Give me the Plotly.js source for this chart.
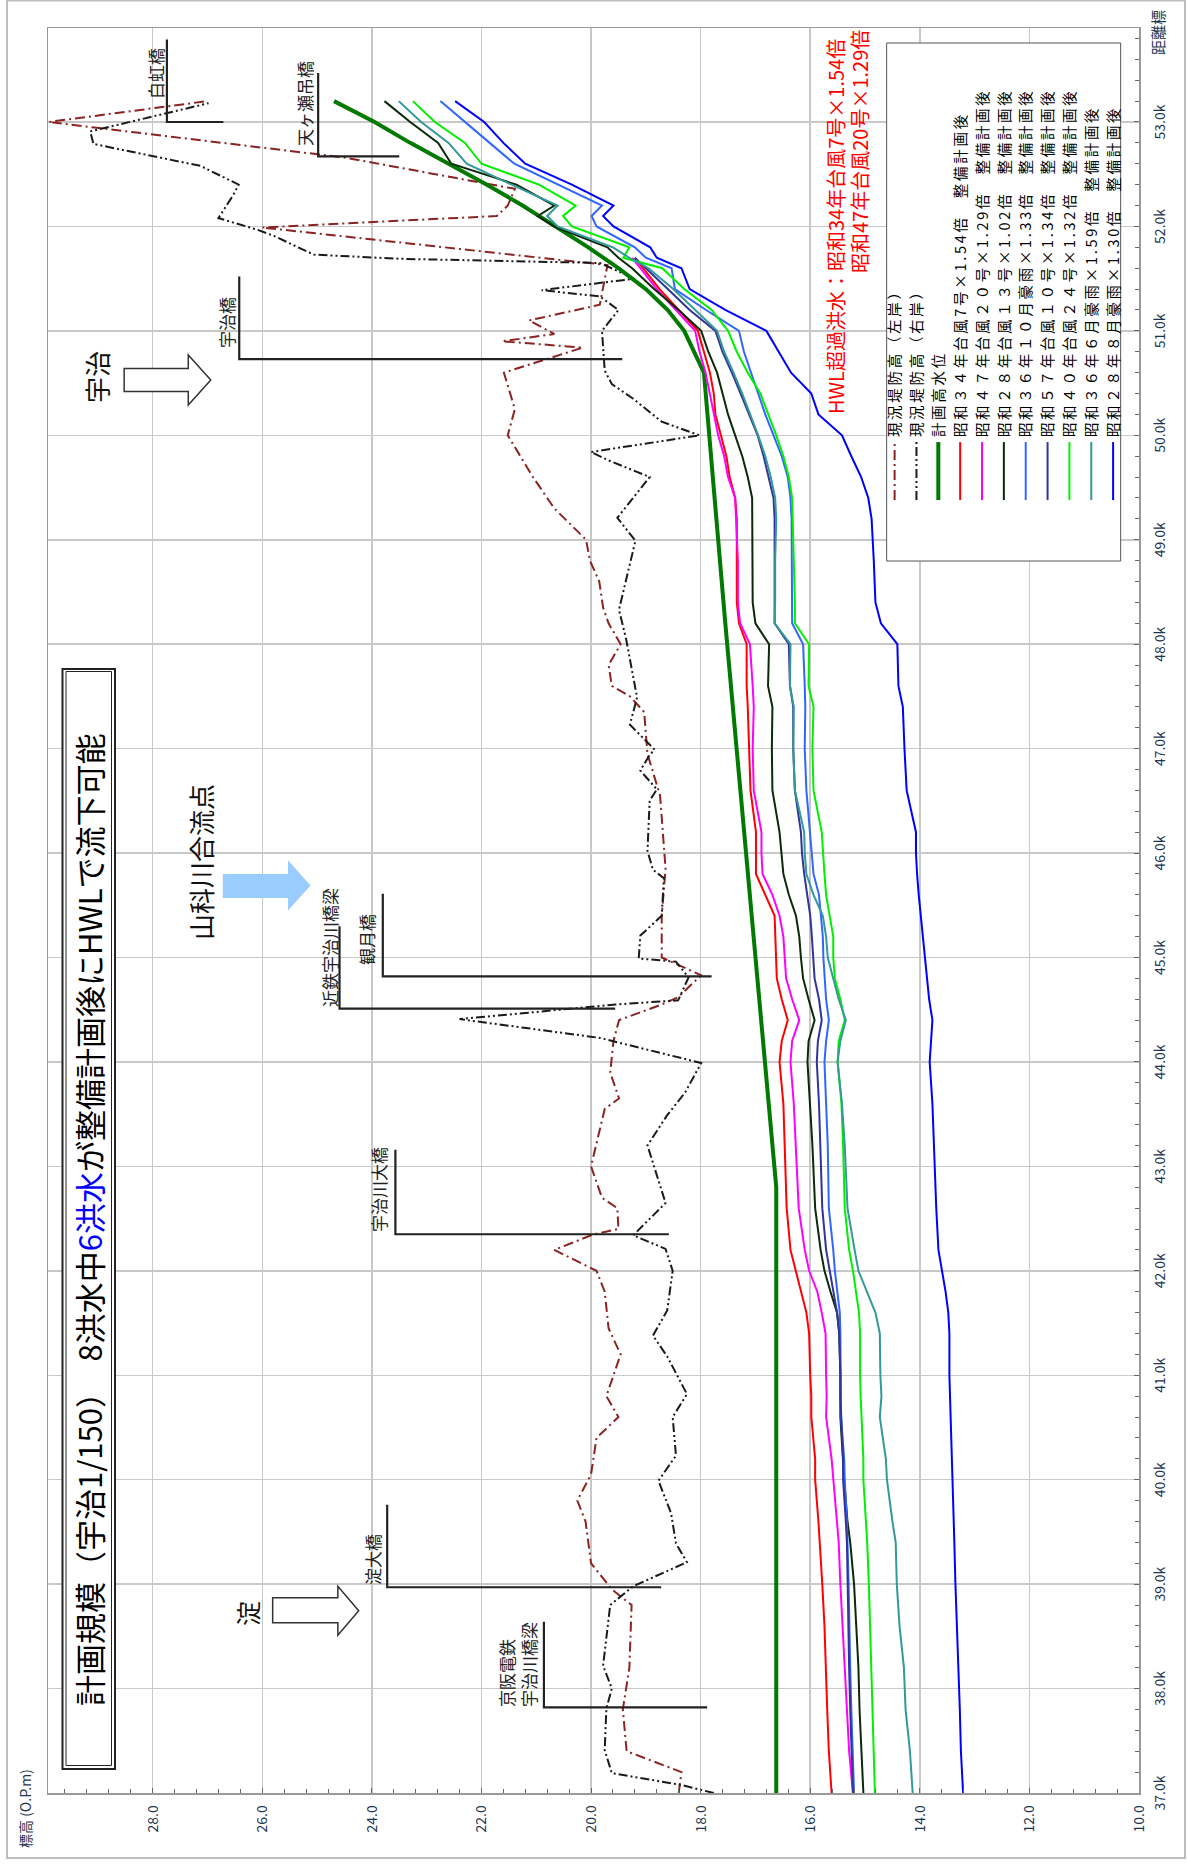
<!DOCTYPE html>
<html><head><meta charset="utf-8">
<script src="https://cdn.plot.ly/plotly-3.0.1.min.js"></script>
<style>
html,body{margin:0;padding:0;background:#fff;overflow:hidden;width:1187px;height:1865px;}
#wrap{position:absolute;left:0;top:0;width:1865px;height:1187px;transform-origin:0 0;transform:translate(0px,1865px) rotate(-90deg);}
#chart{width:1865px;height:1187px;}
#chart .legendtext{letter-spacing:2.7px;}
#chart .legend .scrollbox{clip-path:none !important;}
</style></head><body>
<div id="wrap"><div id="chart"></div></div>
<script>
// ---------------- DATA ----------------
// distance marks (km) shared by the simulated water-level series
const dist = [37.0,37.4,37.8,38.2,38.6,39.0,39.4,39.6,40.0,40.2,40.6,40.8,41.0,41.4,41.6,41.8,42.0,42.2,42.6,43.2,43.6,44.0,44.2,44.4,44.6,44.8,45.0,45.2,45.4,45.6,45.8,46.0,46.2,46.6,47.0,47.4,47.6,48.0,
  48.2,48.4,48.8,49.2,49.4,49.6,49.8,50.0,50.2,50.4,50.6,50.8,51.0,51.2,51.4,51.6,51.7,51.8,52.0,52.1,52.2,52.4,52.6,52.8,53.0,53.2];

const wlS34_7 = [15.61,15.66,15.69,15.71,15.74,15.78,15.82,15.85,15.91,15.91,15.98,15.98,16.00,16.02,16.07,16.17,16.26,16.36,16.43,16.46,16.49,16.56,16.52,16.41,16.52,16.61,16.62,16.63,16.65,16.82,16.99,16.99,16.99,17.09,17.11,17.14,17.16,17.16,
  17.30,17.34,17.34,17.34,17.37,17.47,17.53,17.63,17.73,17.76,17.83,17.94,18.05,18.40,18.75,19.05,19.20,null,null,null,null,null,null,null,null,null];
const wlS47_20 = [15.22,15.29,15.33,15.37,15.42,15.45,15.48,15.51,15.58,15.61,15.71,15.70,15.71,15.72,15.79,15.87,16.02,16.10,16.21,16.26,16.30,16.36,16.33,16.20,16.33,16.44,16.46,16.49,16.56,16.69,16.87,16.89,16.89,17.03,17.05,17.03,17.05,17.10,
  17.28,17.32,17.32,17.35,17.37,17.50,17.57,17.68,17.76,17.83,17.91,18.02,18.10,18.45,18.80,19.10,19.25,null,null,null,null,null,null,null,null,null];
const wlS28_13 = [15.03,15.07,15.10,15.12,15.16,15.20,15.27,15.32,15.38,15.40,15.45,15.45,15.45,15.47,15.51,15.63,15.74,15.81,15.91,15.96,16.00,16.05,16.03,15.92,16.03,16.13,16.17,16.20,16.26,16.39,16.49,16.52,16.56,16.69,16.70,16.69,16.77,16.75,
  17.00,17.05,17.05,17.05,17.06,17.14,17.24,17.37,17.50,17.60,17.70,17.86,17.99,18.40,18.85,19.25,19.50,19.70,20.68,20.97,20.67,21.36,22.55,22.79,23.30,23.77];
const wlS36_10 = [15.20,15.23,15.25,15.27,15.28,15.30,15.32,15.33,15.37,15.38,15.44,15.44,15.44,15.45,15.46,15.51,15.55,15.58,15.66,15.68,15.71,15.74,15.71,15.66,15.71,15.74,15.76,15.77,15.81,15.84,15.94,15.97,16.00,16.07,16.10,16.09,16.10,16.13,
  16.33,16.33,16.33,16.34,16.36,16.41,16.52,16.67,16.82,16.95,17.08,17.21,17.30,17.90,18.47,18.53,19.00,19.20,19.90,19.99,19.80,20.60,21.40,21.85,22.30,22.75];
const wlS57_10 = [15.22,15.25,15.27,15.29,15.30,15.32,15.33,15.35,15.40,15.40,15.44,15.45,15.45,15.47,15.51,15.58,15.64,15.71,15.78,15.81,15.84,15.88,15.86,15.79,15.84,15.92,15.94,15.97,16.00,16.06,16.11,16.15,16.17,16.28,16.31,16.31,16.37,16.39,
  16.65,16.65,16.65,16.65,16.67,16.76,16.85,16.96,17.11,17.27,17.43,17.60,17.73,18.20,18.60,19.00,19.20,null,null,null,null,null,null,null,null,null];
const wlS40_24 = [14.82,14.84,14.86,14.88,14.91,14.93,14.96,14.98,15.03,15.03,15.07,15.08,15.09,15.09,15.11,15.16,15.22,15.29,15.37,15.40,15.43,15.50,15.48,15.37,15.45,15.55,15.58,15.58,15.64,15.71,15.74,15.77,15.79,15.94,15.96,15.94,16.03,16.02,
  16.28,16.28,16.30,16.31,16.33,16.39,16.49,16.62,16.76,16.91,17.14,17.34,17.50,17.80,18.30,18.70,19.41,19.30,20.35,20.51,20.28,20.95,22.00,22.30,22.85,23.25];
const wlS36_6 = [14.13,14.18,14.26,14.29,14.37,14.42,14.44,14.50,14.60,14.62,14.73,14.70,14.72,14.73,14.81,14.96,15.12,15.19,15.32,15.37,15.42,15.50,15.45,15.35,15.48,15.58,15.68,15.71,15.77,15.94,16.07,16.10,16.11,16.28,16.31,16.30,16.37,16.36,
  16.65,16.64,16.64,16.62,16.64,16.72,16.82,16.95,17.09,17.24,17.40,17.57,17.70,18.10,18.50,18.95,19.30,19.60,20.61,20.80,20.61,21.45,22.27,22.60,23.10,23.51];
const wlS28_8 = [13.21,13.25,13.27,13.30,13.33,13.35,13.37,13.38,13.41,13.42,13.44,13.45,13.46,13.46,13.48,13.53,13.59,13.66,13.70,13.74,13.77,13.82,13.80,13.77,13.83,13.87,13.90,13.94,13.98,14.02,14.05,14.07,14.07,14.24,14.28,14.31,14.39,14.41,
  14.71,14.81,14.84,14.88,14.94,15.07,15.25,15.42,15.85,15.98,16.35,16.57,16.80,17.55,18.20,18.35,18.80,18.92,19.59,19.78,19.59,20.35,21.20,21.60,21.95,22.48];

// planned high water level (HWL)
const hwlDist  = [37.0,42.8,48.2,50.6,51.0,51.2,51.4,51.6,51.8,52.0,52.2,52.4,52.6,52.8,53.0,53.2];
const hwlLevel = [16.62,16.62,17.55,17.94,18.30,18.60,19.00,19.50,20.05,20.65,21.25,21.90,22.60,23.30,23.95,24.69];

// existing levee crown, left bank
const leftBankDist  = [37.0,37.2,37.4,37.8,38.2,38.8,38.95,39.2,39.6,39.8,40.05,40.4,40.6,40.8,41.2,41.45,41.8,42.0,42.2,42.35,42.4,42.6,42.7,43.0,43.55,43.65,43.9,44.2,44.4,44.55,44.62,44.83,45.0,45.4,45.85,46.05,46.55,46.95,47.35,47.5,47.6,47.8,48.0,48.2,48.35,48.6,48.8,49.0,49.3,49.6,50.0,50.25,50.6,50.84,50.9,50.97,51.1,51.25,51.63,51.99,52.1,52.2,52.36,52.66,53.0,53.2];
const leftBankLevel = [18.40,18.35,19.35,19.42,19.30,19.26,19.62,20.00,20.10,20.25,20.00,19.90,19.50,19.72,19.46,19.68,19.75,19.90,20.67,19.95,19.50,19.52,19.80,20.00,19.75,19.49,19.65,19.59,19.49,18.71,18.41,17.99,18.71,18.71,18.64,18.67,18.74,18.97,19.03,19.29,19.62,19.68,19.46,19.68,19.78,19.85,20.02,20.09,20.67,21.06,21.52,21.39,21.59,20.15,21.62,20.67,21.13,19.84,19.70,26.00,21.72,21.52,21.39,24.50,29.90,27.00];

// existing levee crown, right bank
const rightBankDist  = [37.0,37.08,37.19,37.41,37.81,38.0,38.22,38.66,38.8,38.98,39.21,39.39,39.68,39.99,40.23,40.6,40.82,41.18,41.38,41.62,42.0,42.21,42.34,42.65,43.2,43.49,43.71,43.99,44.23,44.41,44.55,44.59,44.81,44.96,44.99,45.21,45.4,45.76,45.84,46.02,46.5,46.61,46.79,46.94,46.99,47.16,47.23,47.49,48.05,48.33,48.99,49.21,49.6,49.76,49.84,50.0,50.13,50.35,50.49,50.62,51.0,51.2,51.33,51.39,51.5,51.65,51.69,51.73,51.91,51.97,52.08,52.3,52.4,52.58,52.79,52.91,53.18];
const rightBankLevel = [17.76,18.38,19.62,19.75,19.72,19.62,19.78,19.68,19.65,19.23,18.25,18.45,18.54,18.77,18.45,18.51,18.25,18.61,18.87,18.61,18.51,18.64,19.23,18.64,18.97,18.61,18.28,17.99,19.84,22.40,19.55,18.41,18.22,18.45,19.13,19.10,18.71,18.67,18.87,18.97,18.93,18.80,19.10,18.93,18.84,19.16,19.29,19.16,19.36,19.49,19.19,19.52,18.93,19.68,20.00,18.02,18.71,19.23,19.62,19.75,19.80,19.50,19.84,20.90,19.20,19.84,23.48,25.06,25.79,26.10,26.80,26.53,26.43,27.13,29.08,29.14,26.98];

// bridges: location, girder bottom, top, and marker end
const bridgeNames = ['白虹橋','天ヶ瀬吊橋','宇治橋','観月橋','近鉄宇治川橋梁','宇治川大橋','淀大橋','京阪電鉄<br>宇治川橋梁'];
const bridgeDist  = [53.00,52.67,50.73,44.82,44.51,42.35,38.97,37.82];
const bridgeLow   = [26.71,23.50,19.43,17.80,19.56,18.58,18.72,17.88];
const bridgeHigh  = [27.74,24.98,26.42,23.80,24.59,23.57,23.72,20.86];
const bridgeEnd   = [53.79,53.47,51.52,45.61,45.30,43.16,39.76,38.64];

const seriesNames = ['昭和３４年台風7号×1.54倍　整備計画後','昭和４７年台風２０号×1.29倍　整備計画後','昭和２８年台風１３号×1.02倍　整備計画後',
  '昭和３６年１０月豪雨×1.33倍　整備計画後','昭和５７年台風１０号×1.34倍　整備計画後','昭和４０年台風２４号×1.32倍　整備計画後',
  '昭和３６年６月豪雨×1.59倍　整備計画後','昭和２８年８月豪雨×1.30倍　整備計画後'];
const seriesValues = [wlS34_7, wlS47_20, wlS28_13, wlS36_10, wlS57_10, wlS40_24, wlS36_6, wlS28_8];

// ---------------- STYLE ----------------
const FONT = '"Noto Sans CJK JP","Noto Sans",sans-serif';
const seriesColors = ['#FF0000','#FF00FF','#0A2A0A','#3366FF','#333399','#00F000','#339999','#0000FF'];

const traces = [];
traces.push({x:leftBankDist, y:leftBankLevel, mode:'lines', name:'現況堤防高（左岸）',
  line:{color:'#8B2323', width:2, dash:'10px,4px,2px,4px'}});
traces.push({x:rightBankDist, y:rightBankLevel, mode:'lines', name:'現況堤防高（右岸）',
  line:{color:'#1a1a1a', width:2, dash:'9px,3px,2px,3px,2px,3px'}});
traces.push({x:hwlDist, y:hwlLevel, mode:'lines', name:'計画高水位', line:{color:'#007A00', width:4}});
seriesValues.forEach((vals,i)=>{
  traces.push({x:dist, y:vals, mode:'lines', name:seriesNames[i], connectgaps:false,
    line:{color:seriesColors[i], width:2}});
});
// bridge markers
const bx=[], by=[];
bridgeDist.forEach((d,i)=>{ bx.push(d,d,bridgeEnd[i],null); by.push(bridgeLow[i],bridgeHigh[i],bridgeHigh[i],null); });
traces.push({x:bx, y:by, mode:'lines', showlegend:false, hoverinfo:'skip', line:{color:'#222', width:2.2}});

// bridge labels
const labelStart = [0.20,0.08,0.09,0.09,0.0,0.0,0.0,-0.02];
const labelLift  = [11,14,13,16,10,17,15,26];
const annotations = bridgeNames.map((n,i)=>({
  x: bridgeDist[i]+labelStart[i], y: bridgeHigh[i], xref:'x', yref:'y', text:n, showarrow:false,
  xanchor:'left', yanchor:'middle', yshift:labelLift[i], align:'left',
  font:{family:FONT, size:17, color:'#222'}
}));
annotations.push(
  {x:0.3252, y:0.9629, xref:'paper', yref:'paper', showarrow:false, xanchor:'center', yanchor:'middle',
   text:'計画規模（宇治1/150）　8洪水中<span style="color:#0000FF">6洪水</span>が整備計画後にHWLで流下可能',
   font:{family:FONT, size:31, color:'#000'}},
  {x:50.56, y:29.02, xref:'x', yref:'y', text:'宇治', showarrow:false, font:{family:FONT, size:26, color:'#111'}},
  {x:38.72, y:26.28, xref:'x', yref:'y', text:'淀', showarrow:false, font:{family:FONT, size:25, color:'#111'}},
  {x:45.91, y:27.12, xref:'x', yref:'y', text:'山科川合流点', showarrow:false, font:{family:FONT, size:26, color:'#111'}},
  {x:53.81, y:15.54, xref:'x', yref:'y', xanchor:'right', text:'HWL超過洪水：昭和34年台風7号×1.54倍', showarrow:false, font:{family:FONT, size:20, color:'#FF0000'}},
  {x:53.90, y:15.10, xref:'x', yref:'y', xanchor:'right', text:'昭和47年台風20号×1.29倍', showarrow:false, font:{family:FONT, size:20, color:'#FF0000'}},
  {x:-0.0323, y:1.021, xref:'paper', yref:'paper', xanchor:'left', yanchor:'middle', text:'標高 (O.P.m)', showarrow:false, font:{family:FONT, size:14, color:'#1e3550'}},
  {x:0.9836, y:-0.0165, xref:'paper', yref:'paper', xanchor:'left', yanchor:'middle', text:'距離標', showarrow:false, font:{family:FONT, size:15, color:'#1e3550'}}
);

const shapes = [
  // outer frame
  {type:'rect', xref:'paper', yref:'paper', x0:-0.0368, x1:1.0156, y0:-0.0422, y1:1.0376, line:{color:'#bdbdbd', width:2}},
  // title box (double border)
  {type:'rect', xref:'paper', yref:'paper', x0:0.0136, x1:0.6368, y0:0.93859, y1:0.98671, fillcolor:'#fff', line:{color:'#222', width:2}, layer:'above'},
  {type:'rect', xref:'paper', yref:'paper', x0:0.01558, x1:0.63541, y0:0.94180, y1:0.98350, line:{color:'#222', width:1}, layer:'above'},
  // legend box
  {type:'rect', xref:'paper', yref:'paper', x0:0.698, x1:0.9915, y0:0.0168, y1:0.2313, fillcolor:'#fff', line:{color:'#555', width:1}, layer:'above'},
  // flow arrows
  {type:'path', xref:'x', yref:'y', path:'M50.42,28.52 L50.64,28.52 L50.64,27.35 L50.77,27.35 L50.53,26.94 L50.29,27.35 L50.42,27.35 Z', fillcolor:'#fff', line:{color:'#333', width:1.5}, layer:'above'},
  {type:'path', xref:'x', yref:'y', path:'M38.63,25.81 L38.87,25.81 L38.87,24.62 L38.98,24.62 L38.745,24.24 L38.51,24.62 L38.63,24.62 Z', fillcolor:'#fff', line:{color:'#333', width:1.5}, layer:'above'},
  {type:'path', xref:'x', yref:'y', path:'M45.57,26.72 L45.80,26.72 L45.80,25.53 L45.93,25.53 L45.69,25.12 L45.45,25.53 L45.57,25.53 Z', fillcolor:'#99CCFF', line:{width:0}, layer:'above'}
];

const axisCommon = {
  showgrid:true, gridcolor:'#c8c8c8', gridwidth:1.5, showline:true, linecolor:'#999', linewidth:1.5, mirror:true,
  zeroline:false, ticks:'inside', ticklen:5, tickcolor:'#666', tickformat:'.1f',
  tickfont:{family:FONT, size:14, color:'#1e3550'}, ticklabelstandoff:8
};
const layout = {
  width:1865, height:1187, autosize:false,
  margin:{l:72, r:28, t:48, b:48},
  paper_bgcolor:'#fff', plot_bgcolor:'#fff',
  font:{family:FONT},
  showlegend:true,
  legend:{x:0.7297, y:0.2386, xanchor:'left', yanchor:'top', bgcolor:'rgba(0,0,0,0)', borderwidth:0,
    font:{family:FONT, size:14.5, color:'#000'}, itemwidth:58, tracegroupgap:0, traceorder:'normal'},
  xaxis:Object.assign({}, axisCommon, {range:[37,53.9], tick0:37, dtick:1, ticksuffix:'k',
    minor:{dtick:0.2, ticks:'inside', ticklen:4, tickcolor:'#666', showgrid:false}}),
  yaxis:Object.assign({}, axisCommon, {range:[10,29.91], tick0:10, dtick:2,
    minor:{dtick:0.4, ticks:'inside', ticklen:4, tickcolor:'#666', showgrid:false}}),
  shapes:shapes, annotations:annotations
};
Plotly.newPlot('chart', traces, layout, {displayModeBar:false, staticPlot:true});
</script></body></html>
